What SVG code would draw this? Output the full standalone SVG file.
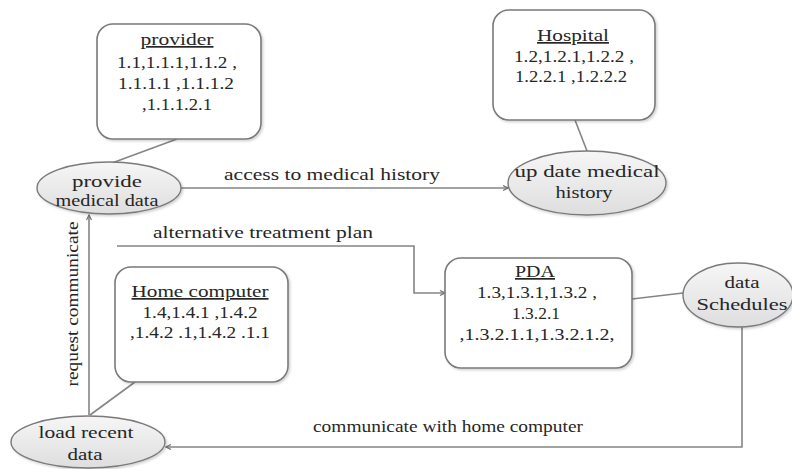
<svg xmlns="http://www.w3.org/2000/svg" width="792" height="469" viewBox="0 0 792 469">
<defs>
  <linearGradient id="eg" x1="0" y1="0" x2="0" y2="1">
    <stop offset="0" stop-color="#f6f6f6"/>
    <stop offset="1" stop-color="#dedede"/>
  </linearGradient>
  <filter id="sh" x="-10%" y="-10%" width="125%" height="125%">
    <feDropShadow dx="1.5" dy="1.5" stdDeviation="1.2" flood-color="#000" flood-opacity="0.18"/>
  </filter>
  <marker id="ar" markerWidth="7" markerHeight="7" refX="6" refY="3.5" orient="auto" markerUnits="userSpaceOnUse">
    <path d="M1,1 L6,3.5 L1,6" fill="none" stroke="#707070" stroke-width="1.2"/>
  </marker>
</defs>
<style>
  .t { font-size: 17px; fill: #262626; }
  .c { text-anchor: middle; }
  .box { fill: #fff; stroke: #7a7a7a; stroke-width: 1.6; filter: url(#sh); }
  .ell { fill: url(#eg); stroke: #7a7a7a; stroke-width: 1.4; filter: url(#sh); }
  .ln { fill: none; stroke: #858585; stroke-width: 1.6; }
  .u { text-decoration: underline; }
</style>

<g id="connectors">
  <line class="ln" x1="177" y1="139" x2="112" y2="163"/>
  <line class="ln" x1="575" y1="120" x2="587" y2="151"/>
  <line class="ln" x1="135" y1="382" x2="90" y2="415"/>
  <line class="ln" x1="632" y1="299" x2="683" y2="293"/>
  <line class="ln" x1="181" y1="188" x2="508" y2="188" marker-end="url(#ar)"/>
  <polyline class="ln" points="117,246 414,246 414,293 445,293" marker-end="url(#ar)"/>
  <polyline class="ln" points="742,327 742,447 166,447" marker-end="url(#ar)"/>
  <line class="ln" x1="89" y1="415" x2="89" y2="215" marker-end="url(#ar)"/>
</g>

<g id="labels" class="t" font-family="Liberation Serif, serif">
  <text class="c" x="332" y="180" textLength="216" lengthAdjust="spacingAndGlyphs">access to medical history</text>
  <text class="c" x="263" y="238" textLength="220" lengthAdjust="spacingAndGlyphs">alternative treatment plan</text>
  <text class="c" x="448" y="432" textLength="270" lengthAdjust="spacingAndGlyphs">communicate  with home computer</text>
  <text class="c" transform="translate(78,304) rotate(-90)" textLength="165" lengthAdjust="spacingAndGlyphs">request communicate</text>
</g>

<g id="provider" class="t" font-family="Liberation Serif, serif">
  <rect class="box" x="97" y="24" width="164" height="115" rx="16"/>
  <text class="c u" x="177" y="45" textLength="73" lengthAdjust="spacingAndGlyphs">provider</text>
  <text class="c" x="177" y="68" textLength="120" lengthAdjust="spacingAndGlyphs">1.1,1.1.1,1.1.2 ,</text>
  <text class="c" x="176" y="89" textLength="116" lengthAdjust="spacingAndGlyphs">1.1.1.1 ,1.1.1.2</text>
  <text class="c" x="177" y="110" textLength="70" lengthAdjust="spacingAndGlyphs">,1.1.1.2.1</text>
</g>

<g id="hospital" class="t" font-family="Liberation Serif, serif">
  <rect class="box" x="493" y="10" width="162" height="110" rx="16"/>
  <text class="c u" x="573" y="41" textLength="72" lengthAdjust="spacingAndGlyphs">Hospital</text>
  <text class="c" x="574" y="62" textLength="120" lengthAdjust="spacingAndGlyphs">1.2,1.2.1,1.2.2 ,</text>
  <text class="c" x="571" y="82" textLength="112" lengthAdjust="spacingAndGlyphs">1.2.2.1 ,1.2.2.2</text>
</g>

<g id="home-computer" class="t" font-family="Liberation Serif, serif">
  <rect class="box" x="115" y="267" width="173" height="115" rx="16"/>
  <text class="c u" x="200" y="297" textLength="137" lengthAdjust="spacingAndGlyphs">Home computer</text>
  <text class="c" x="200" y="318" textLength="115" lengthAdjust="spacingAndGlyphs">1.4,1.4.1 ,1.4.2</text>
  <text class="c" x="200" y="338" textLength="140" lengthAdjust="spacingAndGlyphs">,1.4.2 .1,1.4.2 .1.1</text>
</g>

<g id="pda" class="t" font-family="Liberation Serif, serif">
  <rect class="box" x="445" y="258" width="187" height="110" rx="16"/>
  <text class="c u" x="535" y="277" textLength="40" lengthAdjust="spacingAndGlyphs">PDA</text>
  <text class="c" x="537" y="298" textLength="120" lengthAdjust="spacingAndGlyphs">1.3,1.3.1,1.3.2 ,</text>
  <text class="c" x="536" y="319" textLength="48" lengthAdjust="spacingAndGlyphs">1.3.2.1</text>
  <text class="c" x="537" y="340" textLength="155" lengthAdjust="spacingAndGlyphs">,1.3.2.1.1,1.3.2.1.2,</text>
</g>

<g id="provide-medical-data" class="t" font-family="Liberation Serif, serif">
  <ellipse class="ell" cx="109" cy="188" rx="72" ry="26"/>
  <text class="c" x="107" y="187" textLength="70" lengthAdjust="spacingAndGlyphs">provide</text>
  <text class="c" x="107" y="206" textLength="103" lengthAdjust="spacingAndGlyphs">medical data</text>
</g>

<g id="update-medical-history" class="t" font-family="Liberation Serif, serif">
  <ellipse class="ell" cx="587" cy="183" rx="79" ry="32"/>
  <text class="c" x="587" y="177" textLength="145" lengthAdjust="spacingAndGlyphs">up date medical</text>
  <text class="c" x="584" y="198" textLength="57" lengthAdjust="spacingAndGlyphs">history</text>
</g>

<g id="data-schedules" class="t" font-family="Liberation Serif, serif">
  <ellipse class="ell" cx="738" cy="295" rx="55" ry="32"/>
  <text class="c" x="742" y="288" textLength="35" lengthAdjust="spacingAndGlyphs">data</text>
  <text class="c" x="742" y="310" textLength="91" lengthAdjust="spacingAndGlyphs">Schedules</text>
</g>

<g id="load-recent-data" class="t" font-family="Liberation Serif, serif">
  <ellipse class="ell" cx="88" cy="442" rx="77" ry="26"/>
  <text class="c" x="86" y="438" textLength="95" lengthAdjust="spacingAndGlyphs">load recent</text>
  <text class="c" x="85" y="460" textLength="35" lengthAdjust="spacingAndGlyphs">data</text>
</g>
</svg>
